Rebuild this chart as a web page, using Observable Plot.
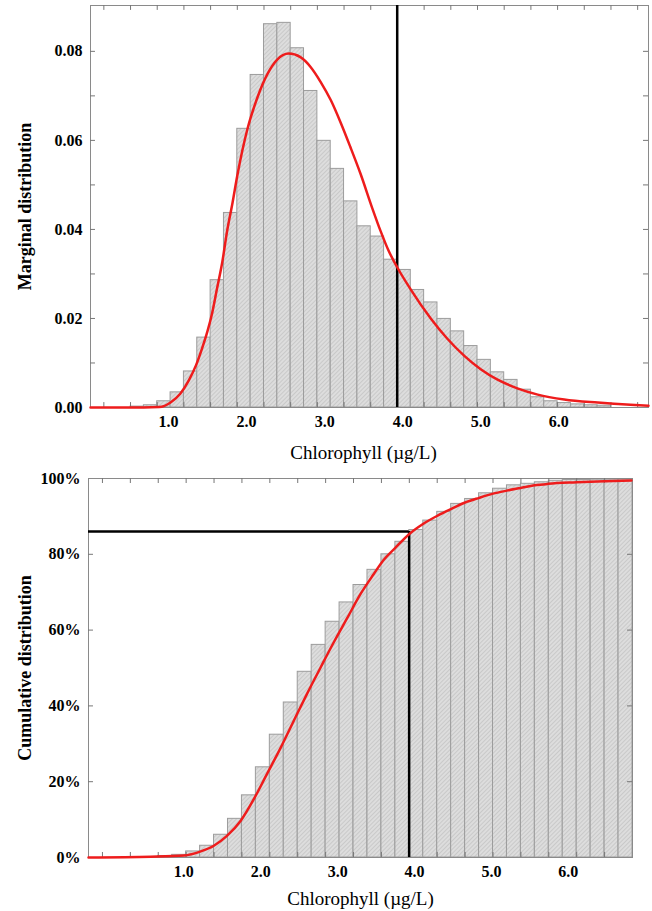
<!DOCTYPE html>
<html>
<head>
<meta charset="utf-8">
<script src="https://cdn.jsdelivr.net/npm/d3@7"></script>
<script src="https://cdn.jsdelivr.net/npm/@observablehq/plot@0.6"></script>
<style>
  body { margin: 0; background: #fff; }
  #chart svg { display: block; }
</style>
</head>
<body>
<div id="chart"></div>
<script>
// ---------- data ----------
// Top panel: marginal distribution histogram (probability per bin)
const topBinStart = 0;
const topBinWidth = 0.171;
const topFreq = [0, 0, 0, 0.0002, 0.0005, 0.0014, 0.0034, 0.0081, 0.0157, 0.0286,
  0.0437, 0.0626, 0.0747, 0.0861, 0.0864, 0.0807, 0.0711, 0.0599, 0.0536, 0.0463,
  0.0407, 0.0384, 0.0332, 0.0309, 0.0264, 0.0236, 0.0199, 0.0171, 0.0138, 0.0107,
  0.0079, 0.0062, 0.0040, 0.0023, 0.0014, 0.0010, 0.0007, 0.0005, 0.0004];
// fitted density (red)
const topCurveX = [0, 0.68, 0.88, 1.03, 1.15, 1.26, 1.35, 1.43, 1.50, 1.56, 1.62, 1.69,
  1.75, 1.82, 1.88, 2.01, 2.14, 2.27, 2.39, 2.54, 2.69, 2.82, 2.95, 3.08, 3.21, 3.33,
  3.46, 3.61, 3.72, 3.82, 3.93, 4.10, 4.36, 4.57, 4.79, 5.00, 5.21, 5.47, 5.73, 6.07,
  6.50, 6.92, 7.15];
const topCurveY = [0, 0, 0.0001, 0.0012, 0.0031, 0.0061, 0.0094, 0.0133, 0.0172, 0.0213,
  0.0266, 0.0328, 0.0396, 0.0460, 0.0520, 0.0625, 0.0697, 0.0750, 0.0781, 0.0795,
  0.0787, 0.0765, 0.0731, 0.0690, 0.0638, 0.0585, 0.0525, 0.0448, 0.0395, 0.0352,
  0.0315, 0.0266, 0.0200, 0.0155, 0.0116, 0.0086, 0.0063, 0.0043, 0.0029, 0.0018,
  0.0011, 0.0006, 0.0004];
const topYTicks = [0, 0.02, 0.04, 0.06, 0.08];
const topMinorY = [0.01, 0.02, 0.03, 0.04, 0.05, 0.06, 0.07, 0.08];

// Bottom panel: cumulative distribution histogram
const botBinStart = -0.24;
const botBinWidth = 0.1814;
const botCum = [0, 0, 0, 0, 0.001, 0.004, 0.007, 0.016, 0.031, 0.060, 0.102, 0.164,
  0.238, 0.324, 0.409, 0.490, 0.561, 0.622, 0.673, 0.719, 0.759, 0.800, 0.833, 0.864,
  0.889, 0.912, 0.933, 0.946, 0.961, 0.973, 0.982, 0.986, 0.990, 0.994, 0.996, 0.996,
  0.997, 0.997, 0.997];
const botCurveX = [-0.24, 0.57, 1.00, 1.22, 1.39, 1.56, 1.74, 1.91, 2.08, 2.26, 2.43,
  2.60, 2.78, 2.95, 3.12, 3.30, 3.47, 3.59, 3.75, 3.94, 4.11, 4.30, 4.48, 4.65, 4.84,
  5.02, 5.20, 5.38, 5.56, 5.74, 6.11, 6.47, 6.82];
const botCurveY = [0, 0.002, 0.005, 0.016, 0.031, 0.057, 0.097, 0.154, 0.220, 0.290,
  0.361, 0.431, 0.502, 0.568, 0.630, 0.696, 0.748, 0.783, 0.817, 0.855, 0.880, 0.902,
  0.920, 0.936, 0.949, 0.960, 0.968, 0.975, 0.982, 0.986, 0.990, 0.993, 0.995];
const botYTicks = [0, 0.2, 0.4, 0.6, 0.8, 1.0];
const botMinorY = [0.2, 0.4, 0.6, 0.8];

const xTickLabels = [1, 2, 3, 4, 5, 6];
const thresholdX = 3.93;   // µg/L
const thresholdP = 0.86;   // cumulative probability

const xTitle = "Chlorophyll (µg/L)";
const topYTitle = "Marginal distribution";
const botYTitle = "Cumulative distribution";

// ---------- helpers ----------
const binRows = (start, width, vals) =>
  vals.map((v, i) => ({x1: start + i * width, x2: start + (i + 1) * width, y: v}))
      .filter(d => d.y > 0);
const zipXY = (xs, ys) => xs.map((x, i) => ({x, y: ys[i]}));
// tick positions at every other bin edge (as in the reference frame ticks)
const minorX = (start, width, nBins) => {
  const out = [];
  for (let k = 1; k < nBins; k += 2) out.push(start + k * width);
  return out;
};
function addHatch(svg, id) {
  const p = d3.select(svg).insert("defs", ":first-child").append("pattern")
    .attr("id", id).attr("patternUnits", "userSpaceOnUse")
    .attr("width", 3).attr("height", 3).attr("patternTransform", "rotate(45)");
  p.append("rect").attr("width", 3).attr("height", 3).attr("fill", "#dddddd");
  p.append("line").attr("x1", 0.5).attr("y1", 0).attr("x2", 0.5).attr("y2", 3)
    .attr("stroke", "#c9c9c9").attr("stroke-width", 1);
}

const font = "'Liberation Serif', 'Times New Roman', serif";
const frameColor = "#8a8a8a";
const redColor = "#ee1c1c";

// ---------- top panel ----------
const topXDomain = [0, 7.15];
const topYDomain = [0, 0.0903];
const tkY = 0.0011, tkX = 0.064;
const topMinorX = minorX(topBinStart, topBinWidth, 42);

const topPlot = Plot.plot({
  width: 652, height: 465,
  marginTop: 5, marginRight: 4, marginBottom: 58, marginLeft: 90,
  x: {domain: topXDomain},
  y: {domain: topYDomain},
  style: {fontFamily: font, fontSize: "16px", color: "#000", background: "#fff"},
  marks: [
    Plot.rectY(binRows(topBinStart, topBinWidth, topFreq),
      {x1: "x1", x2: "x2", y: "y", fill: "url(#hatchTop)", stroke: "#9c9c9c", strokeWidth: 1}),
    Plot.frame({stroke: frameColor}),
    Plot.ruleX(topMinorX, {y1: topYDomain[0], y2: topYDomain[0] + tkY, stroke: "#777"}),
    Plot.ruleX(topMinorX, {y1: topYDomain[1] - tkY, y2: topYDomain[1], stroke: "#777"}),
    Plot.ruleY(topMinorY, {x1: topXDomain[0], x2: topXDomain[0] + tkX, stroke: "#777"}),
    Plot.ruleY(topMinorY, {x1: topXDomain[1] - tkX, x2: topXDomain[1], stroke: "#777"}),
    Plot.axisX(xTickLabels, {tickSize: 0, tickPadding: 8, tickFormat: d3.format(".1f"),
      fontWeight: "bold", label: null}),
    Plot.axisY(topYTicks, {tickSize: 0, tickPadding: 8, tickFormat: d3.format(".2f"),
      fontWeight: "bold", label: null}),
    Plot.text([topYTitle], {text: d => d, frameAnchor: "left", dx: -65, rotate: -90,
      textAnchor: "middle", lineAnchor: "middle", fontWeight: "bold", fontSize: 18}),
    Plot.text([xTitle], {text: d => d, frameAnchor: "bottom", dy: 45, dx: -6,
      textAnchor: "middle", lineAnchor: "middle", fontSize: 19}),
    Plot.ruleX([thresholdX], {stroke: "#000", strokeWidth: 2.5}),
    Plot.line(zipXY(topCurveX, topCurveY),
      {x: "x", y: "y", stroke: redColor, strokeWidth: 2.5, curve: "monotone-x"})
  ]
});
addHatch(topPlot, "hatchTop");

// ---------- bottom panel ----------
const botXDomain = [botBinStart, botBinStart + botCum.length * botBinWidth];
const botYDomain = [0, 1];
const tkY2 = 0.0132, tkX2 = 0.065;
const botMinorX = minorX(botBinStart, botBinWidth, botCum.length);

const botPlot = Plot.plot({
  width: 652, height: 446,
  marginTop: 13, marginRight: 20, marginBottom: 54, marginLeft: 88,
  x: {domain: botXDomain},
  y: {domain: botYDomain},
  style: {fontFamily: font, fontSize: "16px", color: "#000", background: "#fff"},
  marks: [
    Plot.rectY(binRows(botBinStart, botBinWidth, botCum),
      {x1: "x1", x2: "x2", y: "y", fill: "url(#hatchBot)", stroke: "#9c9c9c", strokeWidth: 1}),
    Plot.frame({stroke: frameColor}),
    Plot.ruleX(botMinorX, {y1: botYDomain[0], y2: botYDomain[0] + tkY2, stroke: "#777"}),
    Plot.ruleX(botMinorX, {y1: botYDomain[1] - tkY2, y2: botYDomain[1], stroke: "#777"}),
    Plot.ruleY(botMinorY, {x1: botXDomain[0], x2: botXDomain[0] + tkX2, stroke: "#777"}),
    Plot.ruleY(botMinorY, {x1: botXDomain[1] - tkX2, x2: botXDomain[1], stroke: "#777"}),
    Plot.axisX(xTickLabels, {tickSize: 0, tickPadding: 8, tickFormat: d3.format(".1f"),
      fontWeight: "bold", label: null}),
    Plot.axisY(botYTicks, {tickSize: 0, tickPadding: 8, tickFormat: d => Math.round(d * 100) + "%",
      fontWeight: "bold", label: null}),
    Plot.text([botYTitle], {text: d => d, frameAnchor: "left", dx: -63, rotate: -90,
      textAnchor: "middle", lineAnchor: "middle", fontWeight: "bold", fontSize: 18}),
    Plot.text([xTitle], {text: d => d, frameAnchor: "bottom", dy: 41,
      textAnchor: "middle", lineAnchor: "middle", fontSize: 19}),
    Plot.ruleX([thresholdX], {y1: 0, y2: thresholdP, stroke: "#000", strokeWidth: 2.5}),
    Plot.ruleY([thresholdP], {x1: botXDomain[0], x2: thresholdX, stroke: "#000", strokeWidth: 2.5}),
    Plot.line(zipXY(botCurveX, botCurveY),
      {x: "x", y: "y", stroke: redColor, strokeWidth: 2.5, curve: "monotone-x"})
  ]
});
addHatch(botPlot, "hatchBot");

const root = document.getElementById("chart");
root.appendChild(topPlot);
root.appendChild(botPlot);
</script>
</body>
</html>
